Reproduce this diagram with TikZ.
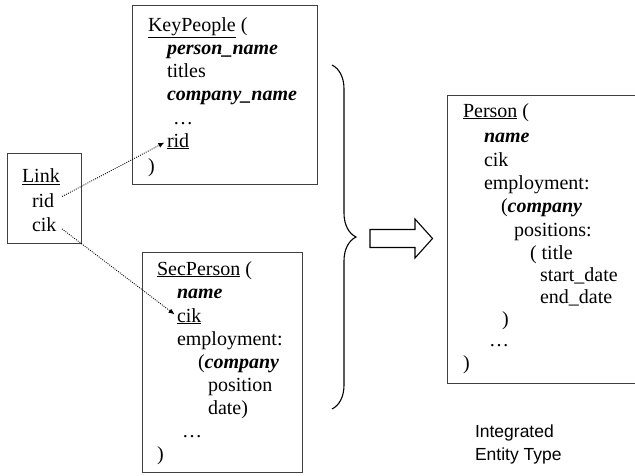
\documentclass[tikz,border=0pt]{standalone}
\usepackage{fontspec}
\setmainfont{Liberation Serif}
\newfontfamily\sansf{Liberation Sans}
\usetikzlibrary{arrows.meta,decorations.pathreplacing}
\begin{document}
\begin{tikzpicture}[x=1pt,y=-1pt,
  txt/.style={anchor=base west,inner sep=0pt,outer sep=0pt,font=\fontsize{20}{23}\selectfont},
  lbl/.style={anchor=base west,inner sep=0pt,outer sep=0pt,font=\sansf\fontsize{17.5}{23}\selectfont},
  box/.style={draw=black!75,line width=1.1pt,inner sep=0pt,anchor=north west},
  dotlink/.style={line width=0.9pt,dash pattern=on 0.9pt off 1.3pt,-{Latex[length=6pt,width=5pt]}}]
\useasboundingbox (0,0) rectangle (635,475);
% boxes
\node[box,minimum width=74.5pt,minimum height=90pt] (linkbox) at (6.5,153) {};
\node[box,minimum width=185pt,minimum height=179pt] (kpbox) at (132,5) {};
\node[box,minimum width=160pt,minimum height=220pt] (spbox) at (142,252) {};
\node[box,minimum width=200pt,minimum height=288pt] (pbox) at (447,95) {};
% Link
\node[txt] (l1) at (22,182.5) {\underline{Link}};
\node[txt] (lrid) at (32,207.5) {rid};
\node[txt] (lcik) at (32,231.5) {cik};
% KeyPeople
\node[txt] (k1) at (148,31) {\underline{KeyPeople} (};
\node[txt] (k2) at (167,54) {\textbf{\textit{person\_name}}};
\node[txt] (k3) at (167,77.5) {titles};
\node[txt] (k4) at (167,100.5) {\textbf{\textit{company\_name}}};
\node[txt] (k5) at (173,124) {\ldots};
\node[txt] (krid) at (167,147) {\underline{rid}};
\node[txt] (k7) at (148,172) {)};
% SecPerson
\node[txt] (s1) at (157,275) {\underline{SecPerson} (};
\node[txt] (s2) at (177,298.5) {\textbf{\textit{name}}};
\node[txt] (scik) at (177,322) {\underline{cik}};
\node[txt] (s4) at (177,345) {employment:};
\node[txt] (s5) at (198,368) {(\textbf{\textit{company}}};
\node[txt] (s6) at (208,391) {position};
\node[txt] (s7) at (208,414) {date)};
\node[txt] (s8) at (182,437) {\ldots};
\node[txt] (s9) at (157,460) {)};
% Person
\node[txt] (p1) at (463,117) {\underline{Person} (};
\node[txt] (p2) at (484,142) {\textbf{\textit{name}}};
\node[txt] (p3) at (484,166) {cik};
\node[txt] (p4) at (484,189) {employment:};
\node[txt] (p5) at (501,212) {(\textbf{\textit{company}}};
\node[txt] (p6) at (514,236) {positions:};
\node[txt] (p7) at (530,259) {( title};
\node[txt] (p8) at (540,281) {start\_date};
\node[txt] (p9) at (540,303) {end\_date};
\node[txt] (p10) at (502,325) {)};
\node[txt] (p11) at (489,346) {\ldots};
\node[txt] (p12) at (463,369) {)};
% caption
\node[lbl] (c1) at (475,437) {Integrated};
\node[lbl] (c2) at (475,460) {Entity Type};
% dotted links
\draw[dotlink,shorten <=9pt,shorten >=3pt] (lrid.east) -- (krid.west);
\draw[dotlink,shorten <=7pt,shorten >=3pt] (lcik.east) -- (scik.west);
% brace
\draw[line width=1.1pt,decorate,decoration={brace,amplitude=24pt}] (332,65) -- (332,409);
% block arrow
\draw[line width=1.1pt] (370,229.5) -- (415,229.5) -- (415,219) -- (432.5,238.5) -- (415,258) -- (415,247.5) -- (370,247.5) -- cycle;
\end{tikzpicture}
\end{document}
